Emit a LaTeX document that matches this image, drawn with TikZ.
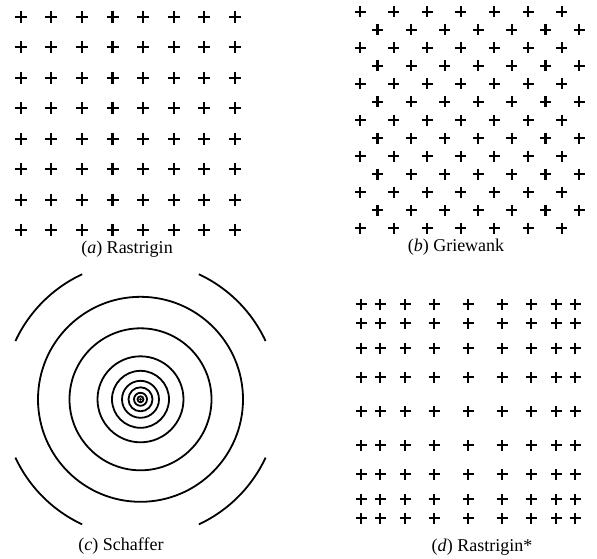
\documentclass[tikz,border=0pt]{standalone}
\usepackage{fontspec}
\setmainfont{Liberation Serif}
\begin{document}
\begin{tikzpicture}[
  x=1pt, y=-1pt,
  cross line/.style={line width=2.1pt},
  contour/.style={line width=1.8pt},
  caption/.style={font=\fontsize{18}{21}\selectfont, inner sep=0pt},
  pics/cross/.style={code={\draw[cross line] (-#1,0) -- (#1,0) (0,-#1) -- (0,#1);}}
]
  \useasboundingbox (0,0) rectangle (597,558);

  \foreach \i in {0,...,7}
    \foreach \j in {0,...,7}
      \pic at ({20.7+30.6*\i},{16.7+30.5*\j}) {cross=6};
  \node[caption] (rastrigin-label) at (127,249) {(\textit{a}) Rastrigin};

  \foreach \j in {0,...,12}
    \foreach \i in {0,...,6}
      \pic at ({360+17.5*mod(\j,2)+33.6*\i},{11.7+18.05*\j}) {cross=5.5};
  \node[caption] (griewank-label) at (456,247) {(\textit{b}) Griewank};

  \coordinate (schaffer-centre) at (140.5,399.3);
  \foreach \r in {102.5,71,43,28.5,18.5,12,6.5,3}
    \draw[contour] (schaffer-centre) circle[radius=\r pt];
  \fill (schaffer-centre) circle[radius=1.5pt];
  \foreach \a in {45,135,225,315}
    \draw[contour] ([shift={({\a-20}:138pt)}]schaffer-centre)
      arc[start angle=\a-20, end angle=\a+20, radius=138pt];
  \node[caption] (schaffer-label) at (121,546) {(\textit{c}) Schaffer};

  \foreach \dx in {-107,-88,-63,-34,0,34,63,88,107}
    \foreach \dy in {-107,-88,-63,-34,0,34,63,88,107}
      \pic at ({468+\dx},{411.3+\dy}) {cross=5.5};
  \node[caption] (rastrigin-star-label) at (482,547) {(\textit{d}) Rastrigin*};
\end{tikzpicture}
\end{document}
